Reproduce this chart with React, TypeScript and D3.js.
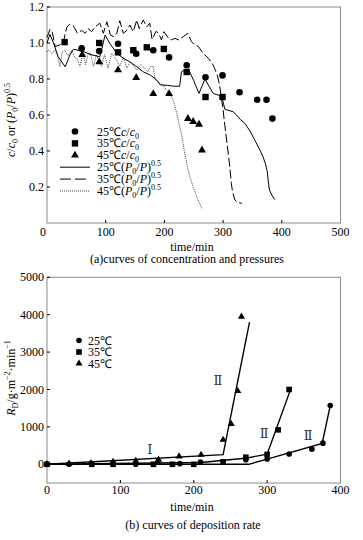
import React from 'react';
import * as d3 from 'd3';

// ---- panel (a) data ----
const xTicksA = [0, 100, 200, 300, 400, 500];
const yTicksA = [0.2, 0.4, 0.6, 0.8, 1.0, 1.2];

const circ25: [number, number][] = [
  [59, 0.97], [89, 0.955], [121, 0.996], [152, 0.94], [181, 0.96], [208, 0.92],
  [238, 0.876], [270, 0.81], [299, 0.82], [328, 0.726], [358, 0.685], [374, 0.685], [384, 0.58],
];
const sq35: [number, number][] = [
  [30, 1.005], [89, 1.0], [121, 0.948], [147, 0.96], [170, 0.976], [199, 0.967],
  [238, 0.839], [270, 0.7], [299, 0.7],
];
const tri45: [number, number][] = [
  [60, 0.935], [89, 0.895], [121, 0.85], [152, 0.807], [181, 0.718], [208, 0.718],
  [240, 0.58], [249, 0.563], [259, 0.548], [264, 0.405],
];

const p25: [number, number][] = [
  [0, 1.0], [5, 1.048], [11, 1.0], [19, 0.924], [31, 0.868], [39, 0.933], [45, 0.965], [53, 0.96],
  [62, 0.952], [75, 0.935], [90, 0.924], [99, 1.044], [107, 0.998], [119, 0.943], [130, 0.915],
  [141, 0.896], [153, 0.868], [164, 0.84], [176, 0.822], [187, 0.794], [193, 0.767], [205, 0.765],
  [215, 0.76], [226, 0.76], [229, 0.84], [235, 0.85], [243, 0.84], [250, 0.79], [259, 0.72],
  [269, 0.8], [276, 0.76], [283, 0.72], [292, 0.71], [298, 0.698], [303, 0.632], [310, 0.625],
  [317, 0.618], [323, 0.6], [329, 0.576], [337, 0.554], [346, 0.51], [354, 0.46], [362, 0.41],
  [368, 0.368], [372, 0.33], [375, 0.29], [377, 0.23], [379, 0.183], [383, 0.155], [388, 0.13],
];
const p35: [number, number][] = [
  [0, 1.03], [5, 1.076], [9, 1.06], [14, 0.98], [22, 0.99], [28, 1.0], [31, 1.054], [34, 1.09],
  [39, 1.105], [45, 1.094], [52, 1.054], [59, 1.07], [65, 1.054], [70, 1.08], [76, 1.063],
  [82, 1.09], [90, 1.11], [96, 1.054], [102, 1.118], [108, 1.044], [114, 1.035], [119, 1.054],
  [124, 1.124], [130, 1.054], [136, 1.07], [141, 1.1], [147, 1.063], [153, 1.128], [157, 1.08],
  [164, 1.128], [170, 1.09], [175, 1.11], [179, 1.02], [186, 1.065], [190, 1.054], [195, 1.017],
  [199, 1.063], [207, 1.026], [212, 1.017], [218, 1.026], [224, 1.017], [232, 1.035], [240, 1.054],
  [246, 1.007], [252, 0.989], [258, 0.98], [266, 0.943], [275, 0.915], [283, 0.878], [290, 0.822],
  [294, 0.767], [297, 0.7], [300, 0.628], [303, 0.54], [306, 0.461], [309, 0.38], [312, 0.294],
  [314, 0.22], [316, 0.175], [320, 0.128], [325, 0.115], [332, 0.109],
];
const p45: [number, number][] = [
  [0, 0.95], [3, 0.96], [8, 0.94], [14, 0.96], [18, 0.93], [22, 0.87], [26, 0.95], [30, 0.96],
  [36, 0.93], [42, 0.96], [47, 0.92], [51, 0.915], [56, 0.87], [61, 0.94], [66, 0.88], [70, 0.94],
  [74, 0.945], [79, 0.87], [84, 0.933], [89, 0.9], [93, 0.87], [98, 0.935], [104, 0.86], [110, 0.943],
  [115, 0.92], [120, 0.9], [124, 0.87], [130, 0.92], [136, 0.86], [142, 0.895], [148, 0.87],
  [153, 0.85], [160, 0.88], [166, 0.86], [172, 0.84], [176, 0.87], [181, 0.87], [184, 0.8],
  [188, 0.785], [193, 0.775], [198, 0.767], [203, 0.74], [209, 0.72], [215, 0.683], [221, 0.61],
  [226, 0.535], [230, 0.48], [234, 0.4], [238, 0.33], [243, 0.26], [249, 0.2], [256, 0.14], [264, 0.08],
];

// ---- panel (b) data ----
const xTicksB = [0, 100, 200, 300, 400];
const yTicksB = [0, 1000, 2000, 3000, 4000, 5000];

const rd25: [number, number][] = [
  [0, 0], [30, 0], [121, 0], [181, 18], [209, 62], [271, 124], [300, 140], [330, 275],
  [361, 405], [376, 565], [386, 1570],
];
const rd35: [number, number][] = [
  [0, 0], [61, 0], [90, 0], [145, 0], [171, 0], [200, 0], [240, 65], [271, 190], [300, 264],
  [315, 922], [330, 2000],
];
const rd45: [number, number][] = [
  [0, 0], [30, 15], [60, 35], [90, 62], [121, 90], [150, 62], [152, 125], [180, 210], [210, 255],
  [240, 655], [251, 1080], [260, 1960], [265, 3950],
];
const fit25: [number, number][] = [[0, 0], [275, 0], [300, 140], [375, 560], [386, 1570]];
const fit35: [number, number][] = [[0, 0], [210, 50], [270, 160], [300, 270], [331, 1950]];
const fit45: [number, number][] = [[0, 0], [240, 260], [276, 3800]];
const stageLabels: { t: number; r: number; s: string }[] = [
  { t: 140, r: 420, s: 'Ⅰ' },
  { t: 233, r: 2250, s: 'Ⅱ' },
  { t: 296, r: 850, s: 'Ⅱ' },
  { t: 356, r: 780, s: 'Ⅱ' },
];

const FONT = '"Liberation Serif", "Times New Roman", serif';
const FRAME = '#8a8a8a';

const xa = d3.scaleLinear().domain([0, 500]).range([47, 340.5]);
const ya = d3.scaleLinear().domain([0, 1.2]).range([223, 7]);
const xb = d3.scaleLinear().domain([0, 400]).range([47, 340.5]);
const yb = d3.scaleLinear().domain([-500, 5000]).range([483, 277.3]);

const tri = (s: number) => d3.symbol().type(d3.symbolTriangle).size(s)() as string;

const Marker = ({ kind, x, y, big }: { kind: string; x: number; y: number; big: boolean }) => {
  const r = big ? 3.3 : 2.8;
  const s = big ? 6.4 : 5.6;
  if (kind === 'c') return <circle cx={x} cy={y} r={r} fill="#000" />;
  if (kind === 's') return <rect x={x - s / 2} y={y - s / 2} width={s} height={s} fill="#000" />;
  return <path d={tri(big ? 27 : 22)} transform={`translate(${x},${y})`} fill="#000" />;
};

const Sub = ({ t }: { t: string }) => <tspan baselineShift="-3" fontSize={8}>{t}</tspan>;
const Sup = ({ t }: { t: string }) => <tspan baselineShift="5" fontSize={8}>{t}</tspan>;
const I = ({ t }: { t: string }) => <tspan fontStyle="italic">{t}</tspan>;

const CC = () => (
  <>
    <I t="c" />/<I t="c" />
    <Sub t="0" />
  </>
);
const PP = () => (
  <>
    (<I t="P" />
    <Sub t="0" />/<I t="P" />)<Sup t="0.5" />
  </>
);

const txt = { fontFamily: FONT, fill: '#000' };

export default function App() {
  const lineA = d3.line<[number, number]>().x(d => xa(d[0])).y(d => ya(d[1]));
  const lineB = d3.line<[number, number]>().x(d => xb(d[0])).y(d => yb(d[1]));

  const legA = [
    { kind: 'c', label: <>25℃<CC /></> },
    { kind: 's', label: <>35℃<CC /></> },
    { kind: 't', label: <>45℃<CC /></> },
    { kind: 'solid', label: <>25℃<PP /></> },
    { kind: 'dash', label: <>35℃<PP /></> },
    { kind: 'dot', label: <>45℃<PP /></> },
  ];
  const legB = [
    { kind: 'c', label: '25℃' },
    { kind: 's', label: '35℃' },
    { kind: 't', label: '45℃' },
  ];

  return (
    <svg width={363} height={540} style={{ position: 'absolute', left: 0, top: 0, fontFamily: FONT }}>
      <rect width={363} height={540} fill="#fff" />

      {/* ---------- panel (a) ---------- */}
      <rect x={47} y={7} width={293.5} height={216} fill="none" stroke={FRAME} strokeWidth={1} />
      {yTicksA.map(v => (
        <g key={v}>
          <line x1={47} x2={50} y1={ya(v)} y2={ya(v)} stroke="#000" />
          <text style={txt} x={44} y={ya(v) + 4} fontSize={12} textAnchor="end">{v.toFixed(1)}</text>
        </g>
      ))}
      {xTicksA.map(v => (
        <g key={v}>
          {v > 0 && v < 500 && <line x1={xa(v)} x2={xa(v)} y1={223} y2={220} stroke="#000" />}
          <text style={txt} x={xa(v) - (v === 0 ? 4 : 0)} y={236} fontSize={12} textAnchor="middle">{v}</text>
        </g>
      ))}
      <path d={lineA(p45) ?? ''} fill="none" stroke="#333" strokeWidth={0.9} strokeDasharray="1,1" />
      <path d={lineA(p35) ?? ''} fill="none" stroke="#000" strokeWidth={1} strokeDasharray="9,3" />
      <path d={lineA(p25) ?? ''} fill="none" stroke="#000" strokeWidth={1} />
      {circ25.map((d, i) => <Marker key={'c' + i} kind="c" x={xa(d[0])} y={ya(d[1])} big />)}
      {sq35.map((d, i) => <Marker key={'s' + i} kind="s" x={xa(d[0])} y={ya(d[1])} big />)}
      {tri45.map((d, i) => <Marker key={'t' + i} kind="t" x={xa(d[0])} y={ya(d[1])} big />)}

      {legA.map((l, i) => {
        const cy = 131.5 + i * 11.9;
        return (
          <g key={i}>
            {l.kind === 'c' || l.kind === 's' || l.kind === 't' ? (
              <Marker kind={l.kind} x={75} y={cy} big />
            ) : (
              <line
                x1={60}
                x2={90}
                y1={cy}
                y2={cy}
                stroke={l.kind === 'dot' ? '#333' : '#000'}
                strokeWidth={l.kind === 'dot' ? 0.9 : 1}
                strokeDasharray={l.kind === 'dash' ? '11,4' : l.kind === 'dot' ? '1,1' : undefined}
              />
            )}
            <text style={txt} x={97} y={cy + 4} fontSize={12}>{l.label}</text>
          </g>
        );
      })}

      <text style={txt} transform="translate(15,120) rotate(-90)" fontSize={12} textAnchor="middle">
        <I t="c" />/<I t="c" />
        <Sub t="0" /> or <PP />
      </text>
      <text style={txt} x={192} y={251} fontSize={12} textAnchor="middle">time/min</text>
      <text style={txt} x={187} y={263} fontSize={12} textAnchor="middle">(a)curves of concentration and pressures</text>

      {/* ---------- panel (b) ---------- */}
      <rect x={47} y={277.3} width={293.5} height={205.7} fill="none" stroke={FRAME} strokeWidth={1} />
      {yTicksB.map(v => (
        <g key={v}>
          <line x1={47} x2={50} y1={yb(v)} y2={yb(v)} stroke="#000" />
          <text style={txt} x={44} y={yb(v) + 4} fontSize={12} textAnchor="end">{v}</text>
        </g>
      ))}
      {xTicksB.map(v => (
        <g key={v}>
          {v > 0 && v < 400 && <line x1={xb(v)} x2={xb(v)} y1={483} y2={480} stroke="#000" />}
          <text style={txt} x={xb(v)} y={494} fontSize={12} textAnchor="middle">{v}</text>
        </g>
      ))}
      {[fit25, fit35, fit45].map((f, i) => (
        <path key={i} d={lineB(f) ?? ''} fill="none" stroke="#000" strokeWidth={1.4} />
      ))}
      {rd25.map((d, i) => <Marker key={'bc' + i} kind="c" x={xb(d[0])} y={yb(d[1])} big={false} />)}
      {rd35.map((d, i) => <Marker key={'bs' + i} kind="s" x={xb(d[0])} y={yb(d[1])} big={false} />)}
      {rd45.map((d, i) => <Marker key={'bt' + i} kind="t" x={xb(d[0])} y={yb(d[1])} big={false} />)}
      {stageLabels.map((s, i) => (
        <text key={i} x={xb(s.t)} y={yb(s.r) + 5} fontSize={13} textAnchor="middle"
          style={{ fontFamily: '"DejaVu Serif", "Noto Sans CJK SC", serif', fill: '#333' }}>{s.s}</text>
      ))}
      {legB.map((l, i) => {
        const cy = 340.5 + i * 11.5;
        return (
          <g key={i}>
            <Marker kind={l.kind} x={79} y={cy} big={false} />
            <text style={txt} x={88} y={cy + 4} fontSize={12}>{l.label}</text>
          </g>
        );
      })}
      <text style={txt} transform="translate(15,378) rotate(-90)" fontSize={12} textAnchor="middle">
        <I t="R" />
        <Sub t="D" />/g·m<Sup t="−2" />·min<Sup t="−1" />
      </text>
      <text style={txt} x={192} y={511} fontSize={12} textAnchor="middle">time/min</text>
      <text style={txt} x={193} y={529} fontSize={12} textAnchor="middle">(b) curves of deposition rate</text>
    </svg>
  );
}
